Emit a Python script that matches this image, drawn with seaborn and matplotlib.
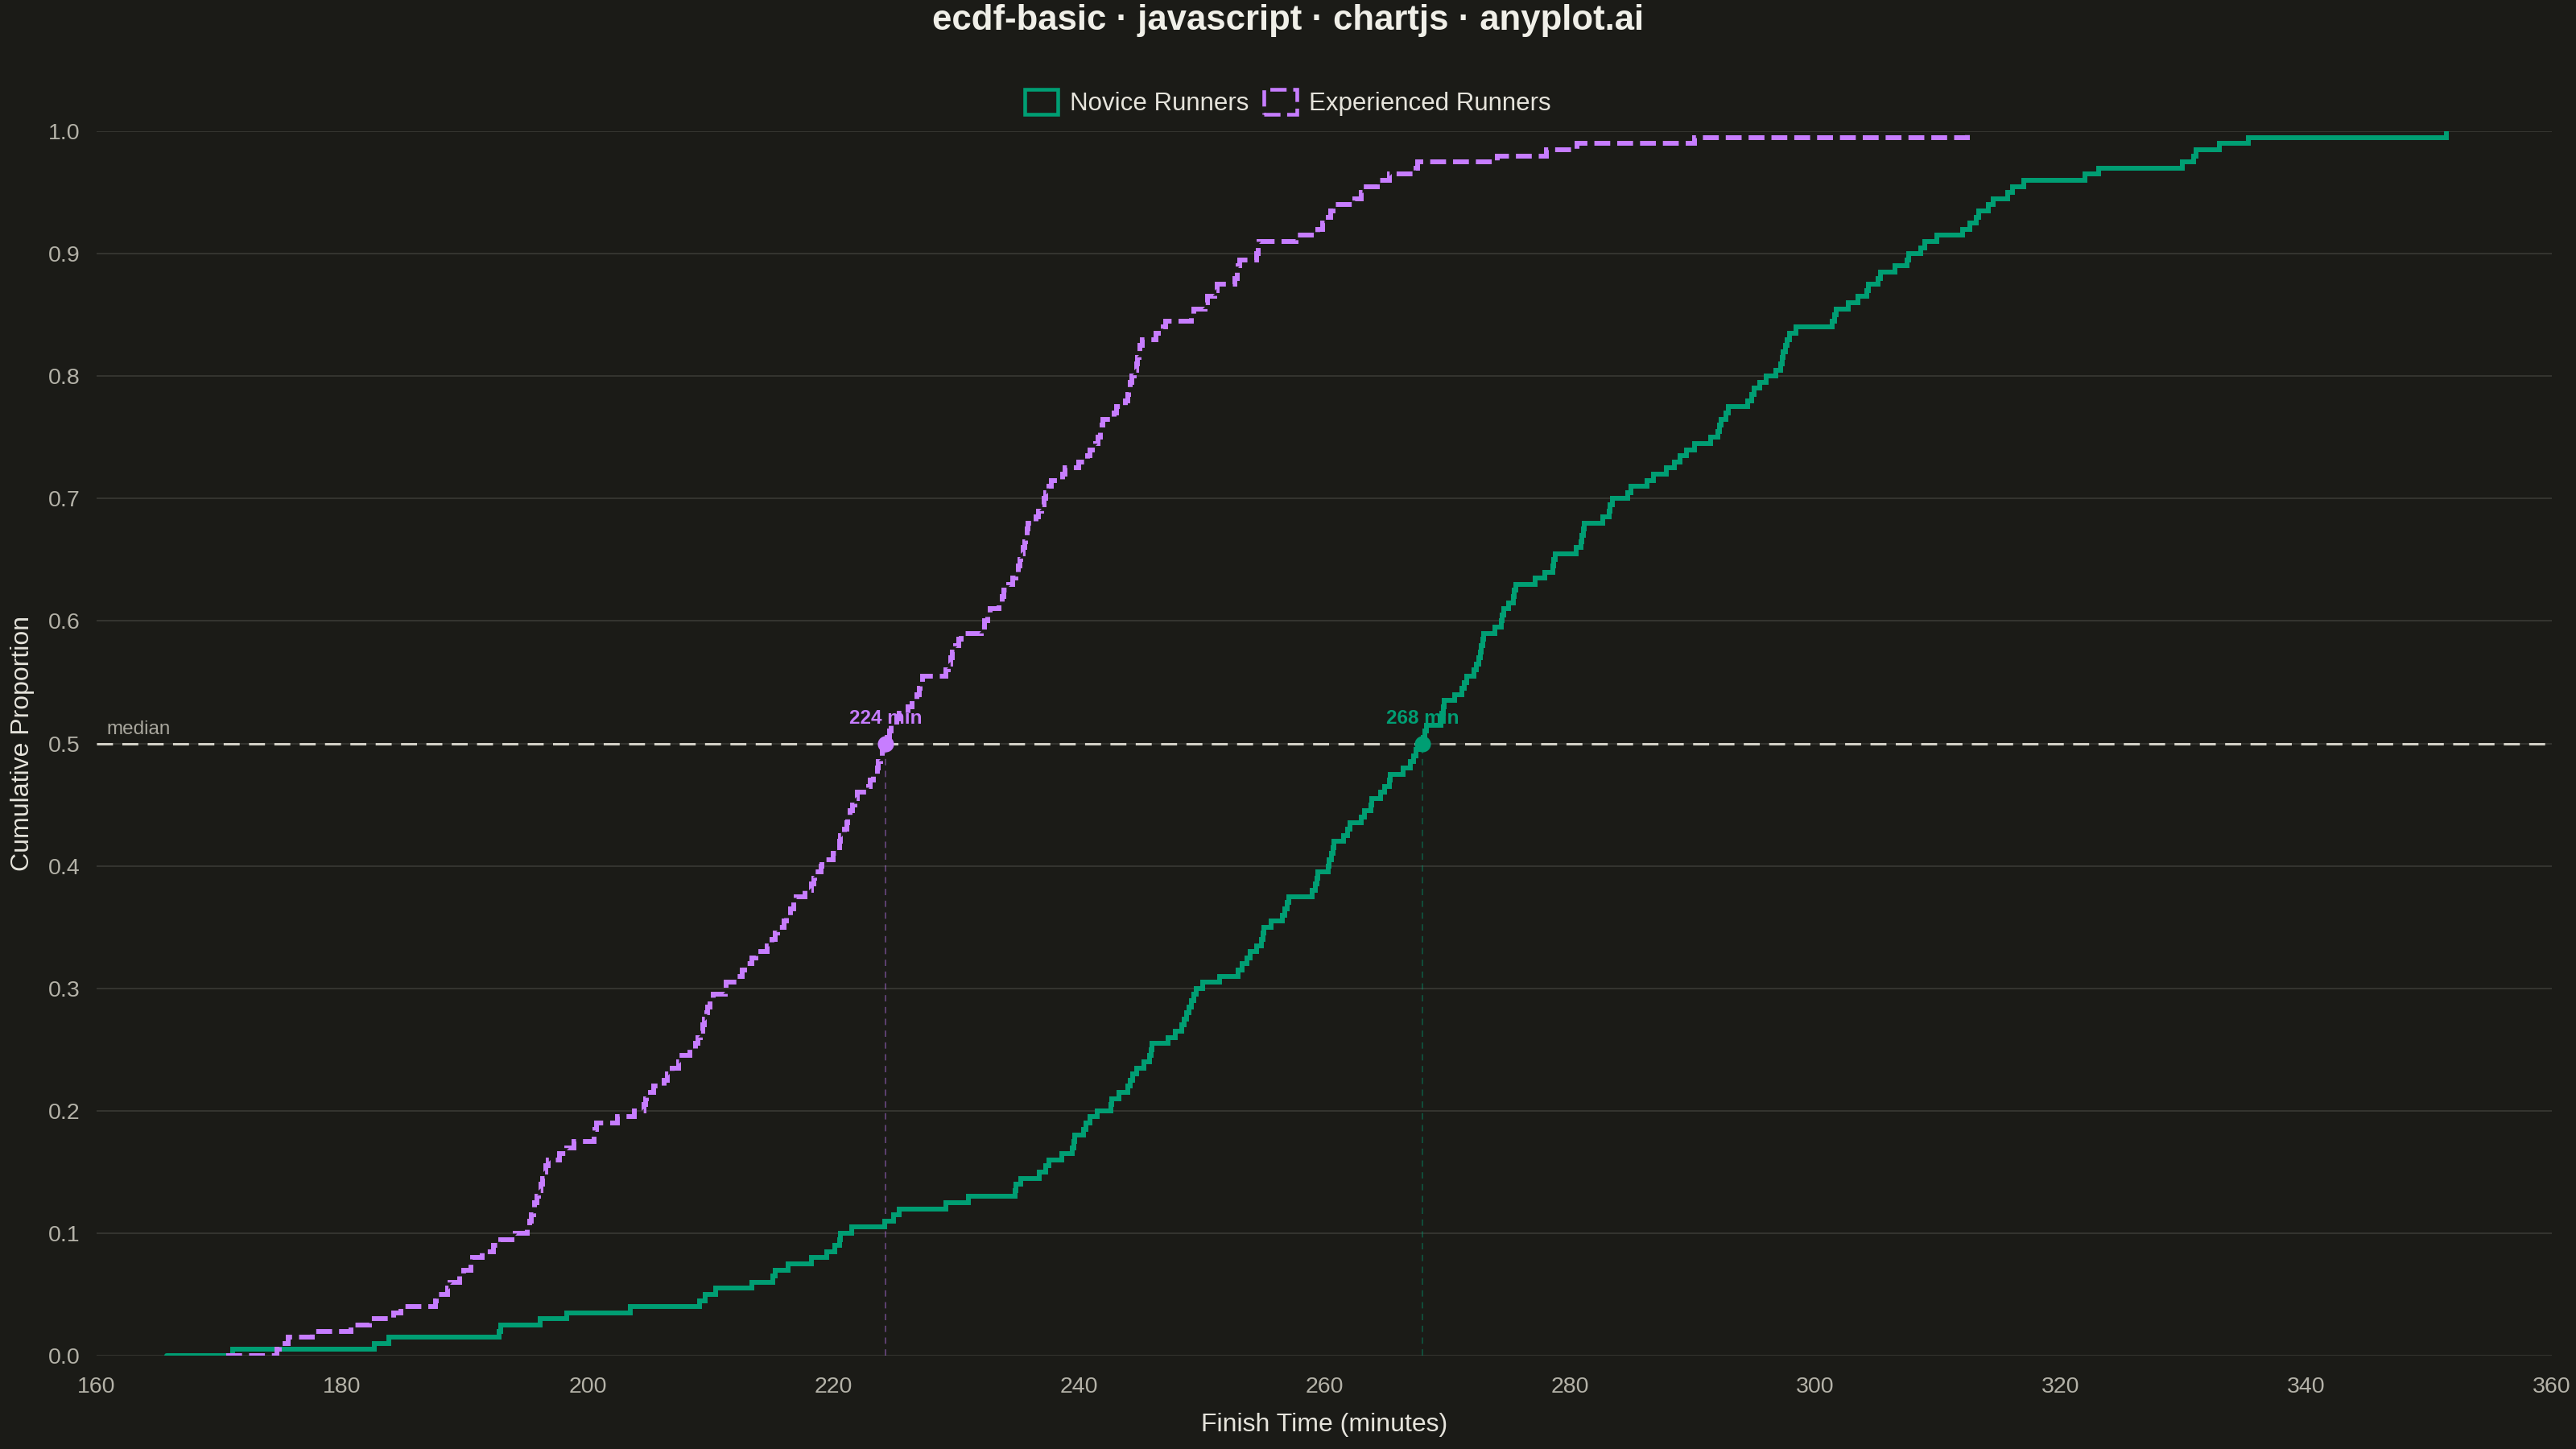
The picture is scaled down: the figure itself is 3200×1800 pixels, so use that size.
#ECDF of marathon finish times, novice vs experienced runners
import numpy as np
import pandas as pd
import seaborn as sns
import matplotlib.pyplot as plt
import matplotlib.patches as mpatches

# finish times in minutes (200 runners per group)
novice_times = [
    171.1, 182.6, 183.8, 192.8, 192.9, 196.1, 198.3, 203.5, 209.1, 209.6,
    210.4, 213.4, 215.1, 215.3, 216.3, 218.2, 219.5, 220.1, 220.5, 220.6,
    221.5, 224.2, 224.9, 225.4, 229.2, 231.0, 234.8, 234.9, 235.3, 236.8,
    237.3, 237.6, 238.6, 239.5, 239.6, 239.7, 240.4, 240.6, 240.9, 241.5,
    242.6, 242.7, 243.3, 244.0, 244.2, 244.4, 244.7, 245.3, 245.8, 245.9,
    246.0, 247.3, 247.9, 248.4, 248.6, 248.8, 249.0, 249.2, 249.4, 249.6,
    250.1, 251.5, 253.0, 253.3, 253.7, 254.0, 254.5, 254.9, 255.0, 255.1,
    255.7, 256.6, 256.8, 257.0, 257.1, 259.0, 259.3, 259.4, 259.5, 260.3,
    260.4, 260.6, 260.7, 260.8, 261.6, 261.9, 262.1, 263.0, 263.3, 263.8,
    263.9, 264.6, 264.9, 265.3, 265.4, 266.4, 267.0, 267.3, 267.5, 267.9,
    268.1, 268.2, 268.3, 269.5, 269.6, 269.7, 269.8, 270.6, 271.2, 271.4,
    271.6, 272.2, 272.4, 272.6, 272.7, 272.8, 272.9, 273.0, 273.9, 274.4,
    274.5, 274.6, 275.0, 275.4, 275.5, 275.6, 277.2, 278.0, 278.6, 278.7,
    278.8, 280.5, 280.9, 281.0, 281.1, 281.2, 282.7, 283.2, 283.3, 283.5,
    284.7, 285.0, 286.3, 286.8, 287.9, 288.5, 289.0, 289.5, 290.2, 291.5,
    292.1, 292.2, 292.3, 292.7, 292.9, 294.5, 294.8, 295.0, 295.5, 296.0,
    296.8, 297.2, 297.3, 297.4, 297.6, 297.7, 297.9, 298.4, 301.4, 301.6,
    301.7, 302.7, 303.5, 304.2, 304.3, 305.1, 305.3, 306.5, 307.5, 307.6,
    308.6, 308.9, 309.9, 312.0, 312.6, 313.1, 313.3, 314.1, 314.5, 315.7,
    316.1, 317.0, 322.0, 323.1, 329.9, 330.8, 331.0, 332.9, 335.3, 351.4,
]

experienced_times = [
    174.7, 174.9, 175.6, 177.6, 180.7, 182.2, 184.2, 184.8, 187.6, 187.7,
    188.6, 188.8, 189.6, 189.9, 190.5, 190.6, 191.4, 192.3, 192.9, 194.1,
    195.1, 195.3, 195.4, 195.6, 195.7, 195.9, 196.0, 196.2, 196.3, 196.5,
    196.6, 196.8, 197.7, 198.3, 198.9, 200.5, 200.6, 200.7, 202.4, 203.8,
    204.6, 204.7, 204.8, 205.4, 206.2, 206.5, 206.9, 207.4, 207.5, 208.3,
    208.8, 209.0, 209.2, 209.4, 209.5, 209.7, 209.8, 210.0, 210.2, 211.2,
    211.3, 212.2, 212.6, 212.8, 213.4, 213.7, 214.6, 215.0, 215.3, 215.5,
    216.0, 216.2, 216.5, 216.8, 217.0, 217.7, 218.2, 218.4, 218.5, 219.0,
    219.1, 220.0, 220.3, 220.5, 220.6, 220.9, 221.1, 221.2, 221.4, 221.6,
    221.8, 222.0, 222.9, 223.0, 223.3, 223.6, 223.7, 223.9, 224.0, 224.1,
    224.4, 224.6, 224.7, 225.2, 225.4, 226.1, 226.4, 226.8, 227.0, 227.1,
    227.3, 229.2, 229.4, 229.6, 229.7, 230.0, 230.2, 230.4, 232.1, 232.3,
    232.6, 232.8, 233.5, 233.8, 233.9, 234.3, 234.6, 234.9, 235.1, 235.2,
    235.3, 235.5, 235.6, 235.7, 235.8, 235.9, 236.5, 236.7, 237.0, 237.2,
    237.3, 237.6, 237.8, 238.7, 238.9, 240.0, 240.7, 240.9, 241.4, 241.6,
    241.8, 241.9, 242.0, 242.9, 243.1, 243.8, 244.0, 244.1, 244.2, 244.3,
    244.5, 244.7, 244.8, 244.9, 245.0, 245.2, 246.3, 246.9, 247.1, 249.2,
    249.4, 250.3, 250.5, 251.1, 251.3, 252.7, 252.9, 253.0, 253.1, 254.5,
    254.6, 254.7, 257.7, 259.5, 259.9, 260.1, 260.5, 260.7, 262.5, 263.0,
    263.2, 264.3, 265.3, 267.5, 267.6, 274.1, 278.1, 280.6, 290.2, 312.4,
]

series_names = ['Novice Runners', 'Experienced Runners']
series_colors = ['#009E73', '#C77DFF']
x_ticks = list(range(160, 361, 20))
y_ticks = [i / 10 for i in range(11)]

BG = '#1b1b17'
GRID = '#3a3a35'
TICK_TXT = '#b4b2a8'
LABEL_TXT = '#e6e4dc'
DASH = (0, (3.3, 1.45))

sns.set_theme(style='dark')
plt.rcParams['font.family'] = ['Liberation Sans', 'DejaVu Sans']


def ecdf_frame(times, name):
    # stepped ECDF with a short lead-in at 0, like the chart.js version
    x = np.sort(np.asarray(times, dtype=float))
    n = len(x)
    start = x[0] - 0.03 * (x[-1] - x[0])
    return pd.DataFrame({
        'time': np.r_[start, x],
        'prop': np.r_[0.0, np.arange(1, n + 1) / n],
        'group': name,
    })


fig, ax = plt.subplots(figsize=(32, 18), dpi=100)
fig.patch.set_facecolor(BG)
ax.set_facecolor(BG)
fig.subplots_adjust(left=0.0375, right=0.9906, bottom=0.0644, top=0.9094)

styles = ['-', DASH]
for times, name, color, ls in zip([novice_times, experienced_times], series_names, series_colors, styles):
    df = ecdf_frame(times, name)
    sns.lineplot(data=df, x='time', y='prop', color=color, lw=4.3, linestyle=ls,
                 drawstyle='steps-post', estimator=None, sort=False, legend=False,
                 solid_joinstyle='miter', dash_joinstyle='miter', dash_capstyle='butt',
                 ax=ax, zorder=3)

# median reference line
ax.axhline(0.5, color='#d2d0c6', lw=2.2, linestyle=(0, (6.5, 3.8)), zorder=2)
ax.annotate('median', xy=(160, 0.5), xytext=(9, 8), textcoords='offset points',
            ha='left', va='baseline', fontsize=17.5, color='#a9a79e')

for times, color in zip([novice_times, experienced_times], series_colors):
    med = np.median(times)
    ax.vlines(med, 0, 0.5, colors=color, alpha=0.45, lw=1.2, linestyles=[(0, (4.7, 4.1))], zorder=2)
    ax.plot([med], [0.5], 'o', color=color, ms=14.5, mew=0, zorder=5)
    ax.annotate(f'{med:.0f} min', xy=(med, 0.5), xytext=(0, 18), textcoords='offset points',
                ha='center', va='baseline', fontsize=17.5, fontweight='bold', color=color, zorder=6)

ax.set_xlim(160, 360)
ax.set_ylim(0, 1.0)
ax.set_xticks(x_ticks)
ax.set_yticks(y_ticks)
ax.set_yticklabels([f'{v:.1f}' for v in y_ticks])
ax.tick_params(axis='both', length=0, labelsize=20.5, labelcolor=TICK_TXT)
ax.tick_params(axis='x', pad=19)
ax.tick_params(axis='y', pad=15)
ax.yaxis.grid(True, color=GRID, lw=1.2)
ax.xaxis.grid(False)
ax.set_axisbelow(True)
for s in ax.spines.values():
    s.set_visible(False)

ax.set_xlabel('Finish Time (minutes)', fontsize=23, color=LABEL_TXT, labelpad=13)
ax.set_ylabel('Cumulative Proportion', fontsize=23, color=LABEL_TXT, labelpad=12)

handles = [
    mpatches.Patch(facecolor='none', edgecolor=series_colors[0], lw=3.3, label=series_names[0]),
    mpatches.Patch(facecolor='none', edgecolor=series_colors[1], lw=3.3, linestyle=(0, (4.4, 1.8)),
                   label=series_names[1]),
]
fig.legend(handles=handles, loc='center', bbox_to_anchor=(0.5, 0.929), ncol=2, frameon=False,
           fontsize=22.5, handlelength=1.3, handleheight=1.15, handletextpad=0.5,
           columnspacing=0.6, labelcolor=LABEL_TXT)

fig.suptitle('ecdf-basic · javascript · chartjs · anyplot.ai', y=0.986, va='center',
             fontsize=31.5, fontweight='bold', color='#f0efe8')

plt.savefig('out.png', dpi=100, facecolor=BG)
